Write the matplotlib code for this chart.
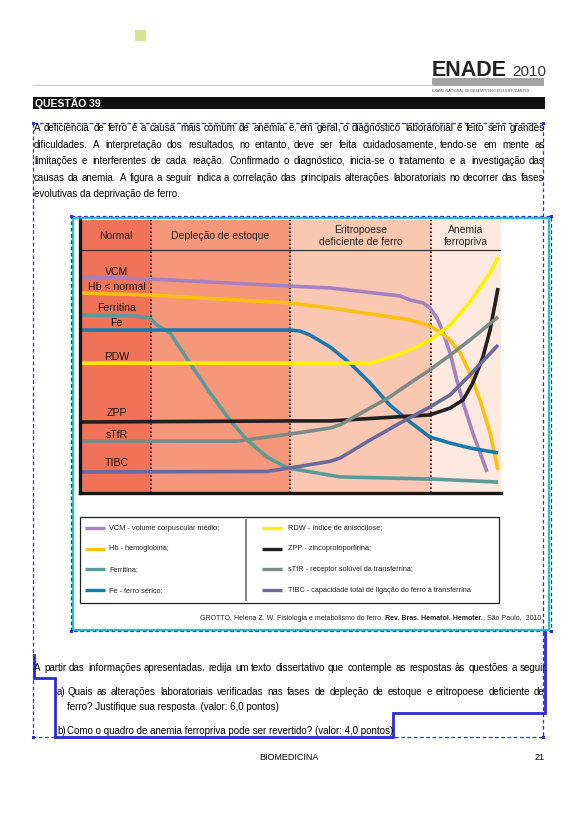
import matplotlib
matplotlib.use("Agg")
import matplotlib.pyplot as plt
from matplotlib.patches import Rectangle

plt.rcParams['font.family'] = ['Liberation Sans', 'DejaVu Sans']

# ---------------- chart data (x: progress of iron deprivation 0-100, y: relative level 0-100)
stage_names = ['Normal', 'Depleção de estoque', 'Eritropoese\ndeficiente de ferro', 'Anemia\nferropriva']
stage_edges = [0, 16.9, 49.9, 83.4, 100]

series_names = ['VCM', 'Hb < normal', 'Ferritina', 'Fe', 'RDW', 'ZPP', 'sTfR', 'TIBC']
legend_text = ['VCM - volume corpuscular médio;', 'Hb - hemoglobina;', 'Ferritina;',
               'Fe - ferro sérico;', 'RDW - índice de anisocitose;', 'ZPP - zincoprotoporfirina;',
               'sTfR - receptor solúvel da transferrina;',
               'TIBC - capacidade total de ligação do ferro à transferrina']

vcm_x = [0, 16.6, 49.9, 59.4, 76.0, 78.4, 81.5, 83.1, 84.8, 86.2, 87.9, 89.5, 91.0, 93.3, 96.7]
vcm_y = [79.1, 78.4, 75.8, 75.1, 72.2, 70.7, 69.6, 67.8, 64.1, 59.0, 51.3, 41.4, 33.0, 22.0, 7.7]

hb_x = [0, 16.6, 49.9, 59.4, 78.4, 83.1, 85.5, 87.9, 90.3, 92.6, 95.0, 97.4, 99.3]
hb_y = [73.3, 72.5, 69.6, 67.8, 63.4, 61.2, 59.0, 56.0, 51.3, 44.0, 34.1, 22.0, 8.4]

ferr_x = [0, 13.5, 16.6, 18.3, 21.4, 26.1, 30.9, 35.6, 39.7, 44.4, 49.2, 61.8, 83.8, 99.3]
ferr_y = [65.2, 64.8, 64.0, 61.5, 58.6, 47.6, 36.6, 26.7, 19.4, 13.2, 9.2, 5.9, 5.1, 4.0]

fe_x = [0, 49.9, 52.3, 54.6, 59.4, 64.1, 68.9, 73.6, 78.4, 83.1, 87.9, 92.6, 99.3]
fe_y = [59.7, 59.7, 59.3, 57.9, 53.5, 47.6, 40.3, 32.2, 26.0, 20.5, 18.3, 16.5, 14.7]

rdw_x = [0, 49.9, 68.9, 75.3, 80.0, 83.1, 87.9, 92.6, 97.4, 99.3]
rdw_y = [47.6, 47.6, 47.6, 50.5, 53.5, 56.0, 61.5, 70.0, 80.6, 86.4]

zpp_x = [0, 49.9, 59.4, 83.1, 87.9, 91.0, 93.3, 95.7, 97.4, 99.3]
zpp_y = [26.0, 26.4, 26.4, 28.6, 31.1, 34.1, 40.3, 49.8, 59.7, 75.1]

stfr_x = [0, 37.3, 49.9, 59.4, 61.8, 68.9, 73.6, 78.4, 83.1, 87.9, 92.6, 99.3]
stfr_y = [19.0, 19.0, 21.6, 23.8, 25.0, 31.1, 35.2, 40.3, 45.1, 50.5, 56.0, 64.5]

tibc_x = [0, 44.4, 49.9, 59.4, 61.8, 68.9, 76.0, 83.1, 87.9, 92.6, 99.3]
tibc_y = [7.7, 7.9, 9.2, 11.6, 12.8, 19.4, 25.6, 31.5, 35.9, 43.2, 54.2]

series_x = [vcm_x, hb_x, ferr_x, fe_x, rdw_x, zpp_x, stfr_x, tibc_x]
series_y = [vcm_y, hb_y, ferr_y, fe_y, rdw_y, zpp_y, stfr_y, tibc_y]

# ---------------- page text
para = ["A deficiência de ferro é a causa mais comum de anemia e, em geral, o diagnóstico laboratorial é feito sem grandes",
        "dificuldades. A interpretação dos resultados, no entanto, deve ser feita cuidadosamente, tendo-se em mente as",
        "limitações e interferentes de cada reação. Confirmado o diagnóstico, inicia-se o tratamento e a investigação das",
        "causas da anemia. A figura a seguir indica a correlação das principais alterações laboratoriais no decorrer das fases",
        "evolutivas da deprivação de ferro."]
intro = "A partir das informações apresentadas, redija um texto dissertativo que contemple as respostas às questões a seguir."
qa = ["Quais as alterações laboratoriais verificadas nas fases de depleção de estoque e eritropoese deficiente de",
      "ferro? Justifique sua resposta. (valor: 6,0 pontos)"]
qb = "Como o quadro de anemia ferropriva pode ser revertido? (valor: 4,0 pontos)"

# ---------------- styles
stage_colors = ['#f07257', '#f5977a', '#f9c7b2', '#fde9df']
series_colors = ['#a681bf', '#fcc10f', '#5a9b9a', '#1b79ad', '#fff200', '#231f20', '#7b8b86', '#6a6a9e']
label_y = [80.9, 75.5, 67.8, 62.3, 49.8, 29.3, 21.2, 11.0]
BLUE = '#3030d0'
BODY = 7.0

W, H = 578, 818
fig = plt.figure(figsize=(W / 100, H / 100), dpi=100)
page = fig.add_axes([0, 0, 1, 1])
page.set_xlim(0, W)
page.set_ylim(H, 0)
page.axis('off')
r = fig.canvas.get_renderer()


def width(t):
    return t.get_window_extent(r).width


def line_text(x, y, s, size=BODY):
    # y is the visual middle of a text line; all pieces share one whole-pixel baseline
    return page.text(x, round(y) + 3, s, fontsize=size, va='baseline')


def justify(line, x0, x1, y):
    # one text per word; a trailing comma is its own text so the word keeps the baseline
    words = line.split()
    pieces = []
    for w in words:
        if w.endswith(',') and len(w) > 1:
            a, b = line_text(0, y, w[:-1]), line_text(0, y, ',')
            pieces.append((a, b, width(a) + width(b) - 1.5))
        else:
            a = line_text(0, y, w)
            pieces.append((a, None, width(a)))
    gap = max((x1 - x0 - sum(p[2] for p in pieces)) / (len(words) - 1), 1.0)
    x = x0
    for a, b, w in pieces:
        a.set_x(round(x))
        if b is not None:
            b.set_x(round(x) + width(a) - 1.5)
        x += w + gap


# header
page.add_patch(Rectangle((135, 30), 11, 11, color='#d6e48c', lw=0))
enade = page.text(432, 76, 'ENADE', fontsize=15.5, fontweight='bold', color='#222', va='baseline')
page.text(432 + width(enade) + 5, 76, '2010', fontsize=11, color='#333', va='baseline')
page.plot([33, 432], [85, 85], color='#c8c8c8', lw=0.8)
page.add_patch(Rectangle((432, 78), 112, 8, color='#a3a3a3', lw=0))
page.text(432, 91.5, 'EXAME NACIONAL DE DESEMPENHO DOS ESTUDANTES', fontsize=2.6, color='#555', va='center')
page.add_patch(Rectangle((33, 97), 512, 12, color='#111111', lw=0))
page.text(35, 103.5, 'QUESTÃO 39', fontsize=7.5, fontweight='bold', color='white', va='center')

for i, line in enumerate(para):
    y = 128 + 16.6 * i
    if i < len(para) - 1:
        justify(line, 34, 545, y)
    else:
        line_text(34, y, line)

justify(intro, 34, 549, 668)
line_text(57, 692, 'a)')
justify(qa[0], 67, 545, 692)
line_text(67, 707, qa[1])
line_text(57, 731, 'b)')
line_text(67, 731, qb)
page.text(289, 757, 'BIOMEDICINA', fontsize=6.5, ha='center', va='center')
page.text(545, 757, '21', fontsize=6.5, ha='right', va='center')

# ---------------- chart
ax = fig.add_axes([80 / W, 1 - 493 / H, 421 / W, 273 / H])
ax.set_xlim(0, 100)
ax.set_ylim(0, 100)
ax.axis('off')
for i, name in enumerate(stage_names):
    ax.axvspan(stage_edges[i], stage_edges[i + 1], color=stage_colors[i], lw=0, zorder=0)
    ax.text((stage_edges[i] + stage_edges[i + 1]) / 2, 94.2, name, fontsize=7.5,
            ha='center', va='center', linespacing=1.3, color='#222')
for e in stage_edges[1:-1]:
    ax.axvline(e, color='#111', lw=1.2, ls=(0, (1, 1.4)), zorder=1)
ax.axhline(89, color='#333', lw=0.9, zorder=1)
for xs, ys, c in zip(series_x, series_y, series_colors):
    ax.plot(xs, ys, color=c, lw=2.6, solid_joinstyle='round', solid_capstyle='butt', zorder=3)
for name, yy in zip(series_names, label_y):
    ax.text(8.7, yy, name, fontsize=7.6, ha='center', va='center', color='#111', zorder=4)
ax.plot([0, 0], [0, 100], color='#1a1414', lw=2.4, clip_on=False, zorder=5)
ax.plot([0, 100], [0, 0], color='#1a1414', lw=2.4, clip_on=False, zorder=5)

# ---------------- legend box
page.add_patch(Rectangle((80, 517), 419, 86, fill=False, ec='#222', lw=0.9))
page.plot([246, 246], [520, 600], color='#777', lw=1.3)
for i, (txt, c) in enumerate(zip(legend_text, series_colors)):
    col, row = divmod(i, 4)
    y = 528 + 20.7 * row
    lx = 85 if col == 0 else 262
    tx = 109 if col == 0 else 288
    page.plot([lx, lx + 20], [y, y], color=c, lw=2.4, solid_capstyle='butt')
    page.text(tx, y, txt, fontsize=5.3, va='center', color='#222')

# citation with bold journal name
runs = [("GROTTO, Helena Z. W. Fisiologia e metabolismo do ferro. ", 'normal'),
        ("Rev. Bras. Hematol. Hemoter.", 'bold'),
        (", São Paulo,  2010.", 'normal')]
texts = [page.text(0, 618, s, fontsize=5.0, fontweight=fw, va='center', color='#222') for s, fw in runs]
x = 543 - sum(width(t) for t in texts)
for t in texts:
    t.set_x(x)
    x += width(t)

# ---------------- annotation frames
page.add_patch(Rectangle((33, 123), 510, 614, fill=False, ec=BLUE, lw=0.9, ls=(0, (3, 2))))
page.add_patch(Rectangle((73, 218), 476, 412, fill=False, ec='#1cc6d0', lw=1.6))
page.add_patch(Rectangle((71, 216), 480, 415, fill=False, ec=BLUE, lw=0.9, ls=(0, (3, 2))))
page.plot([34, 34, 55, 55, 393, 393, 545, 545], [655, 678, 678, 737, 737, 713, 713, 632],
          color='#2b2bd6', lw=2.0, solid_joinstyle='miter')
for cx, cy in [(33, 123), (543, 123), (33, 737), (543, 737), (71, 216), (551, 216), (551, 631), (71, 631)]:
    page.add_patch(Rectangle((cx - 1.5, cy - 1.5), 3, 3, color=BLUE, lw=0))

fig.savefig('out.png', dpi=100)
